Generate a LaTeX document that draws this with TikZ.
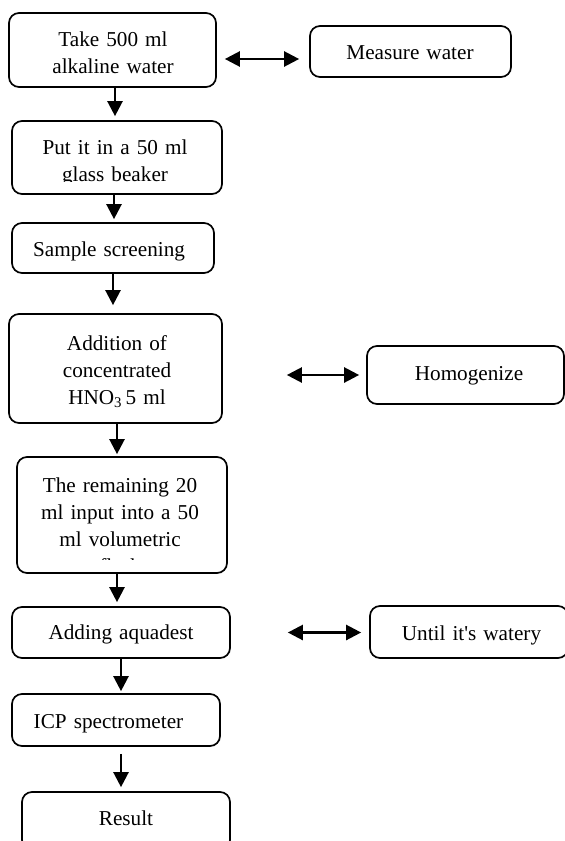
\documentclass[tikz,border=0pt]{standalone}
\usepackage{fontspec}
\setmainfont{Liberation Serif}
\usetikzlibrary{arrows.meta}
\begin{document}
\begin{tikzpicture}[x=1pt,y=-1pt,
  box/.style={draw, line width=1.7pt, rounded corners=10pt, inner sep=0pt},
  txt/.style={anchor=base, align=center, text width=220pt, inner sep=0pt, font=\fontsize{21.2}{27}\selectfont},
  arr/.style={line width=2.4pt, -{Triangle[length=15pt,width=15pt]}},
  darr/.style={line width=2.4pt, {Triangle[length=15pt,width=15pt]}-{Triangle[length=15pt,width=15pt]}},
]
\useasboundingbox (0,0) rectangle (565,841);
\fill[white] (0,0) rectangle (565,841);

% boxes
\node[box, minimum width=207pt, minimum height=74pt] (b1) at (112.5,50) {};
\node[box, minimum width=201pt, minimum height=51pt] (m) at (410.5,51.5) {};
\node[box, minimum width=210pt, minimum height=73pt] (b2) at (117,157.5) {};
\node[box, minimum width=202pt, minimum height=50pt] (b3) at (113,248) {};
\node[box, minimum width=213pt, minimum height=109pt] (b4) at (115.5,368.5) {};
\node[box, minimum width=197pt, minimum height=58pt] (h) at (465.5,375) {};
\node[box, minimum width=210pt, minimum height=116pt] (b5) at (122,515) {};
\node[box, minimum width=218pt, minimum height=51pt] (b6) at (121,632.5) {};
\node[box, minimum width=198pt, minimum height=52pt] (u) at (469,632) {};
\node[box, minimum width=208pt, minimum height=52pt] (b7) at (116,720) {};
\node[box, minimum width=208pt, minimum height=58pt] (b8) at (126,821) {};

% texts
\node[txt] (t1) at (113,46) {Take 500 ml\\alkaline water};
\node[txt] (tm) at (410,59) {Measure water};
\begin{scope}
  \clip (0,0) rectangle (565,181);
  \node[txt] (t2) at (115,154) {Put it in a 50 ml\\glass beaker};
\end{scope}
\node[txt] (t3) at (109,256) {Sample screening};
\node[txt] (t4) at (117,350) {Addition of\\concentrated\\HNO\textsubscript{3}\,5 ml};
\node[txt] (th) at (469,380) {Homogenize};
\begin{scope}
  \clip (0,440) rectangle (565,559);
  \node[txt] (t5) at (120,492) {The remaining 20\\ml input into a 50\\ml volumetric\\flask};
\end{scope}
\node[txt] (t6) at (121,639) {Adding aquadest};
\node[txt] (tu) at (471.5,640) {Until it\textquotesingle s watery};
\node[txt] (t7) at (108.5,728) {ICP spectrometer};
\node[txt] (t8) at (126,825) {Result};

% vertical arrows
\coordinate (a1) at ([xshift=2.5pt]b1.south);
\draw[arr, shorten >=4pt] (a1) -- (a1 |- b2.north);
\coordinate (a2) at ([xshift=-3pt]b2.south);
\draw[arr, shorten >=3pt] (a2) -- (a2 |- b3.north);
\coordinate (a3) at (b3.south);
\draw[arr, shorten >=8pt] (a3) -- (a3 |- b4.north);
\coordinate (a4) at ([xshift=1.5pt]b4.south);
\draw[arr, shorten >=2pt] (a4) -- (a4 |- b5.north);
\coordinate (a5) at ([xshift=-5pt]b5.south);
\draw[arr, shorten >=4pt] (a5) -- (a5 |- b6.north);
\coordinate (a6) at (b6.south);
\draw[arr, shorten >=2pt] (a6) -- (a6 |- b7.north);
\coordinate (a7) at ([xshift=5pt]b7.south);
\draw[arr, shorten <=7pt, shorten >=4pt] (a7) -- (a7 |- b8.north);

% double arrows
\coordinate (d1) at ([yshift=-9pt]b1.east);
\draw[darr, shorten <=8pt, shorten >=10pt] (d1) -- (d1 -| m.west);
\draw[darr, shorten <=64pt, shorten >=7pt] (b4.east |- h.west) -- (h.west);
\draw[darr, shorten <=57pt, shorten >=8pt] (b6.east) -- (b6.east -| u.west);
\end{tikzpicture}
\end{document}
